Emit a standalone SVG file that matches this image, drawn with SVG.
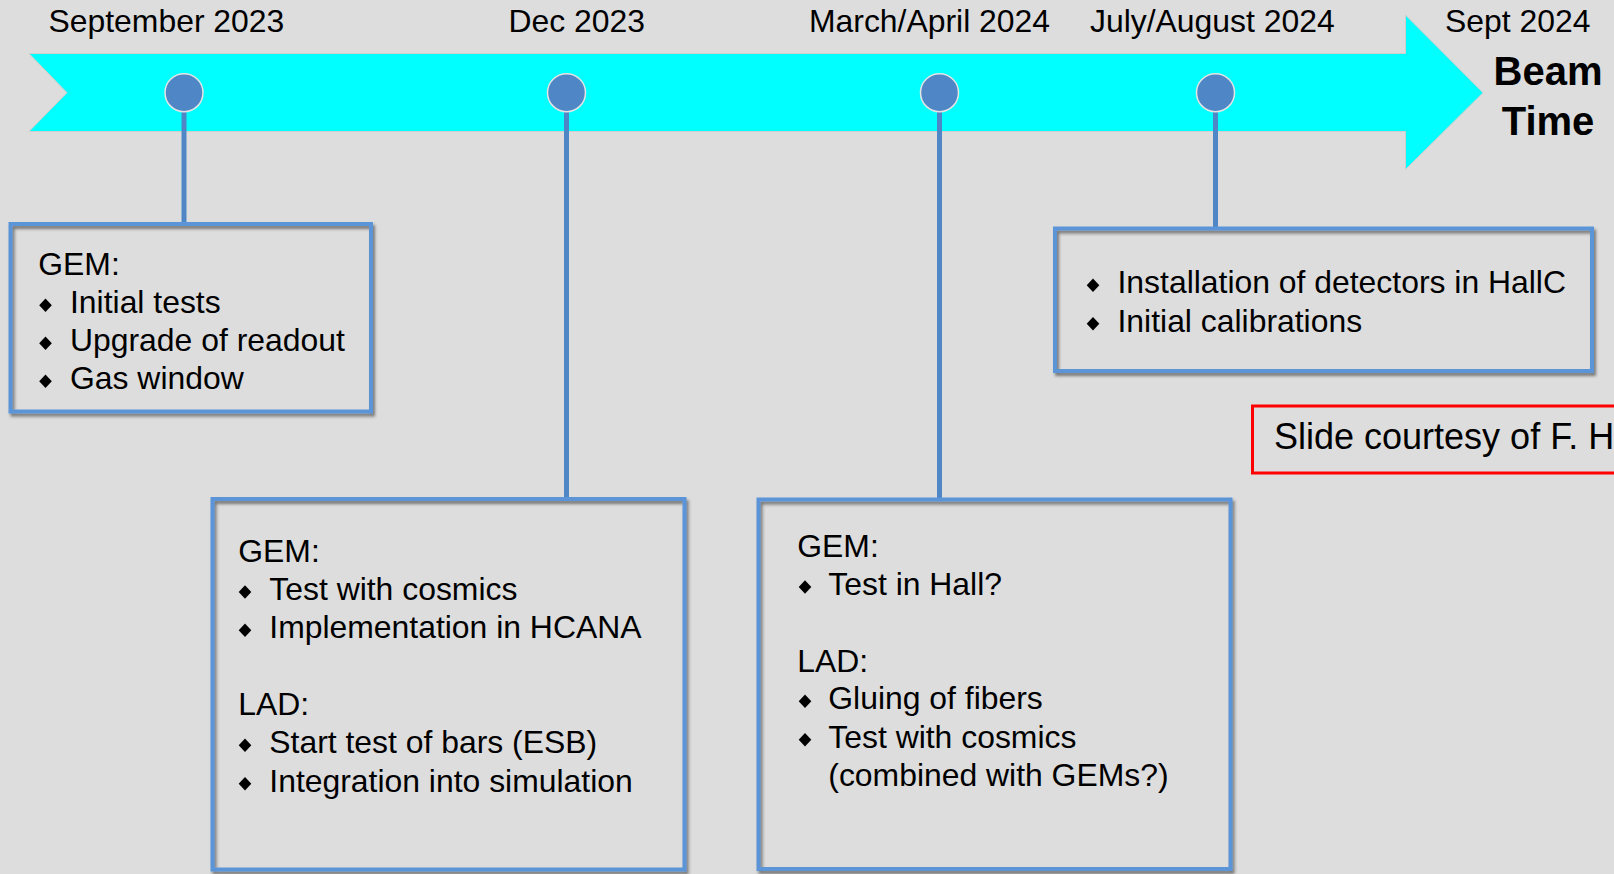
<svg xmlns="http://www.w3.org/2000/svg" xmlns:xlink="http://www.w3.org/1999/xlink" width="1614" height="874" viewBox="0 0 1614 874">
  <style>
    text { font-family: "Liberation Sans", Arial, Helvetica, sans-serif; fill: #000; }
    .date { font-size: 31.9px; }
    .body { font-size: 31.9px; }
    .beam { font-size: 40px; font-weight: bold; }
    .box { fill: none; stroke: #5b94d8; stroke-width: 4; }
    .conn { stroke: #4f87c6; stroke-width: 5; fill: none; }
    .dot { fill: #4f87c6; stroke: #e4e4e4; stroke-width: 1.5; }
    .note { fill: none; stroke: #ff0000; stroke-width: 3; }
    .notetext { font-size: 36px; }
  </style>
  <defs>
    <filter id="sh" x="-5%" y="-5%" width="110%" height="110%">
      <feDropShadow dx="2" dy="3" stdDeviation="1.5" flood-color="#333" flood-opacity="0.6"/>
    </filter>
    <path id="b" d="M0,-6.8 L6.3,0 L0,6.8 L-6.3,0 Z" fill="#000"/>
  </defs>

  <rect width="1614" height="874" fill="#dddddd"/>

  <g id="timeline">
    <polygon points="29,53.5 1405.5,53.5 1405.5,15 1483,92.7 1405.5,169.5 1405.5,131.5 29,131.5 67,92.7" fill="#00ffff" stroke="#cfcfcf" stroke-width="1"/>
  </g>

  <g id="dates">
    <text class="date" x="48.5" y="32">September 2023</text>
    <text class="date" x="508.5" y="32">Dec 2023</text>
    <text class="date" x="809" y="32">March/April 2024</text>
    <text class="date" x="1090" y="32">July/August 2024</text>
    <text class="date" x="1445" y="32">Sept 2024</text>
    <text class="beam" x="1548" y="85" text-anchor="middle">Beam</text>
    <text class="beam" x="1548" y="135" text-anchor="middle">Time</text>
  </g>

  <g id="connectors">
    <line class="conn" x1="184" y1="110" x2="184" y2="223"/>
    <line class="conn" x1="566.5" y1="110" x2="566.5" y2="498"/>
    <line class="conn" x1="939.5" y1="110" x2="939.5" y2="498"/>
    <line class="conn" x1="1215.5" y1="110" x2="1215.5" y2="227"/>
  </g>

  <g id="milestones">
    <circle class="dot" cx="184" cy="92.7" r="19"/>
    <circle class="dot" cx="566.5" cy="92.7" r="19"/>
    <circle class="dot" cx="939.5" cy="92.7" r="19"/>
    <circle class="dot" cx="1215.5" cy="92.7" r="19"/>
  </g>

  <g id="box-sep2023">
    <rect class="box" filter="url(#sh)" x="10.5" y="224" width="360.5" height="187.5"/>
    <text class="body" x="38.3" y="275.3">GEM:</text>
    <use xlink:href="#b" x="45.5" y="305.3"/>
    <text class="body" x="70" y="313.3">Initial tests</text>
    <use xlink:href="#b" x="45.5" y="343.3"/>
    <text class="body" x="70" y="351.3">Upgrade of readout</text>
    <use xlink:href="#b" x="45.5" y="381.3"/>
    <text class="body" x="70" y="389.3">Gas window</text>
  </g>

  <g id="box-dec2023">
    <rect class="box" filter="url(#sh)" x="212.5" y="499" width="472" height="370.5"/>
    <text class="body" x="238.3" y="561.7">GEM:</text>
    <use xlink:href="#b" x="245" y="592"/>
    <text class="body" x="269.3" y="600">Test with cosmics</text>
    <use xlink:href="#b" x="245" y="630.3"/>
    <text class="body" x="269.3" y="638.3">Implementation in HCANA</text>
    <text class="body" x="238.3" y="715">LAD:</text>
    <use xlink:href="#b" x="245" y="745.3"/>
    <text class="body" x="269.3" y="753.3">Start test of bars (ESB)</text>
    <use xlink:href="#b" x="245" y="783.7"/>
    <text class="body" x="269.3" y="791.7">Integration into simulation</text>
  </g>

  <g id="box-mar2024">
    <rect class="box" filter="url(#sh)" x="758.5" y="499.5" width="472" height="369.5"/>
    <text class="body" x="797.3" y="557.3">GEM:</text>
    <use xlink:href="#b" x="805" y="587"/>
    <text class="body" x="828.3" y="595">Test in Hall?</text>
    <text class="body" x="797.3" y="671.7">LAD:</text>
    <use xlink:href="#b" x="805" y="701.3"/>
    <text class="body" x="828.3" y="709.3">Gluing of fibers</text>
    <use xlink:href="#b" x="805" y="739.7"/>
    <text class="body" x="828.3" y="747.7">Test with cosmics</text>
    <text class="body" x="828.3" y="786">(combined with GEMs?)</text>
  </g>

  <g id="box-jul2024">
    <rect class="box" filter="url(#sh)" x="1055" y="228.5" width="537" height="142.5"/>
    <use xlink:href="#b" x="1093" y="285.3"/>
    <text class="body" x="1117.5" y="293.3">Installation of detectors in HallC</text>
    <use xlink:href="#b" x="1093" y="323.7"/>
    <text class="body" x="1117.5" y="331.7">Initial calibrations</text>
  </g>

  <g id="credit">
    <rect class="note" x="1252.5" y="406" width="400" height="67"/>
    <text class="notetext" x="1274" y="449.3">Slide courtesy of F. H</text>
  </g>
</svg>
